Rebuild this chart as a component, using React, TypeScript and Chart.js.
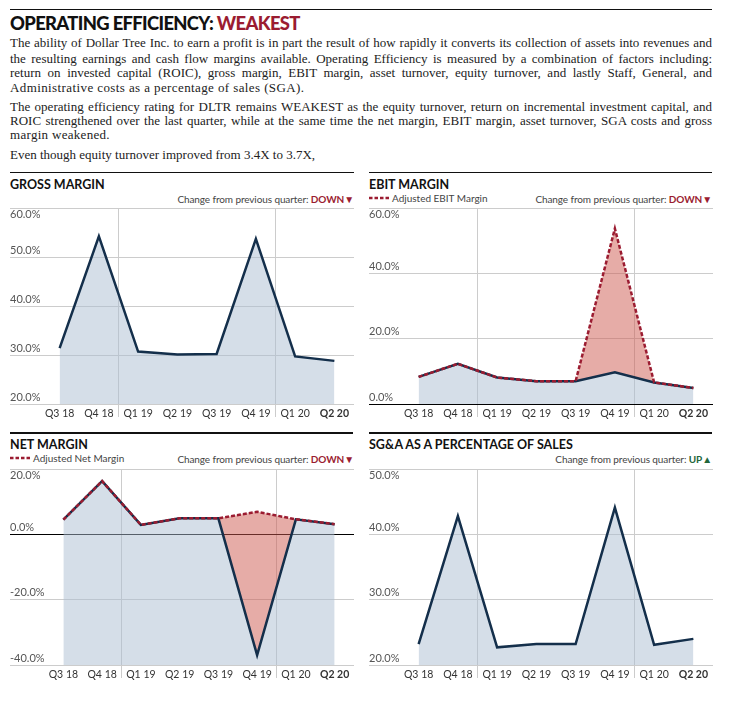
import React, { useEffect, useRef } from "react";
import { Chart, registerables } from "chart.js";

Chart.register(...registerables);

// ---------- data ----------
const quarters = ["Q3 18", "Q4 18", "Q1 19", "Q2 19", "Q3 19", "Q4 19", "Q1 20", "Q2 20"];

const grossMargin = [31.4, 54.2, 30.7, 30.1, 30.2, 53.7, 29.7, 28.8];
const grossTicks = [20, 30, 40, 50, 60];

const ebitMargin = [8.3, 12.3, 8.1, 7.0, 7.0, 9.7, 6.6, 4.9];
const adjEbitMargin = [8.3, 12.3, 8.1, 7.0, 7.0, 53.7, 6.6, 4.9];
const ebitTicks = [0, 20, 40, 60];

const netMargin = [4.5, 16.3, 2.9, 4.9, 4.9, -37.0, 4.6, 3.1];
const adjNetMargin = [4.5, 16.3, 2.9, 4.9, 4.9, 6.9, 4.6, 3.1];
const netTicks = [-40, -20, 0, 20];

const sgaPct = [23.2, 42.8, 22.7, 23.2, 23.2, 44.1, 23.1, 24.0];
const sgaTicks = [20, 30, 40, 50];

// ---------- styles ----------
const NAVY = "#142f4b";
const RED = "#9b1c31";
const GREEN = "#23663a";
const GRID = "#cccccc";
const BLUE_FILL = "rgba(171,189,209,0.5)";
const RED_FILL = "rgba(205,90,80,0.5)";
const SANS = "Lato, 'Open Sans', sans-serif";
const SERIF = "'Liberation Serif', 'DejaVu Serif', serif";

type PanelProps = {
  left: number;
  top: number;
  width: number;
  height: number;
  yWidth: number;
  ticks: number[];
  main: number[];
  adjusted?: number[];
};

function ChartPanel({ left, top, width, height, yWidth, ticks, main, adjusted }: PanelProps) {
  const ref = useRef<HTMLCanvasElement | null>(null);
  useEffect(() => {
    if (!ref.current) return;
    const min = Math.min(...ticks);
    const max = Math.max(...ticks);
    const datasets: any[] = [];
    if (adjusted) {
      datasets.push({
        data: adjusted,
        borderColor: RED,
        borderWidth: 2.5,
        borderDash: [4, 2],
        pointRadius: 0,
        tension: 0,
        fill: 1,
        backgroundColor: RED_FILL,
      });
    }
    datasets.push({
      data: main,
      borderColor: NAVY,
      borderWidth: 2.5,
      pointRadius: 0,
      tension: 0,
      fill: "start",
      backgroundColor: BLUE_FILL,
    });
    const last = quarters.length - 1;
    const chart = new Chart(ref.current, {
      type: "line",
      data: { labels: quarters, datasets },
      options: {
        responsive: false,
        animation: false,
        events: [],
        layout: { autoPadding: false, padding: { top: 8, left: 0, right: 0, bottom: 0 } },
        plugins: {
          legend: { display: false },
          tooltip: { enabled: false },
          filler: { drawTime: "beforeDatasetsDraw" },
        } as any,
        scales: {
          x: {
            type: "category",
            offset: true,
            border: { display: false },
            grid: {
              offset: true,
              drawTicks: true,
              tickLength: 13,
              lineWidth: 1,
              color: (ctx: any) =>
                quarters[ctx.index] && quarters[ctx.index].startsWith("Q1") ? GRID : "rgba(0,0,0,0)",
            },
            ticks: {
              padding: -10,
              autoSkip: false,
              maxRotation: 0,
              color: "#333",
              font: (ctx: any) => ({
                family: SANS,
                size: 10.5,
                weight: ctx.index === last ? "bold" : "normal",
              }),
            },
            afterFit: (s: any) => {
              s.height = 16;
              s.paddingLeft = 0;
              s.paddingRight = 0;
            },
          },
          y: {
            min,
            max,
            border: { display: false },
            afterBuildTicks: (s: any) => {
              s.ticks = ticks.map((v) => ({ value: v }));
            },
            afterFit: (s: any) => {
              s.width = yWidth;
              s.paddingTop = 0;
              s.paddingBottom = 0;
            },
            grid: {
              drawTicks: true,
              tickLength: yWidth,
              lineWidth: 1,
              color: (ctx: any) => (ctx.tick && ctx.tick.value === 0 ? "#000" : GRID),
            },
            ticks: {
              padding: 0,
              crossAlign: "far",
              color: "#555",
              font: { family: SANS, size: 11, lineHeight: 1.25 },
              callback: (v: any) => {
                const s = Number(v).toFixed(1) + "%";
                return Number(v) === max ? ["", s] : [s, ""];
              },
            },
          },
        },
      } as any,
    });
    return () => chart.destroy();
  }, []);
  return (
    <canvas
      ref={ref}
      width={width}
      height={height}
      style={{ position: "absolute", left, top, width, height }}
    />
  );
}

const abs = (o: React.CSSProperties): React.CSSProperties => ({ position: "absolute", ...o });

function Rule({ left, top, width }: { left: number; top: number; width: number }) {
  return <div style={abs({ left, top, width, height: 1.5, background: "#111" })} />;
}

function PanelTitle({ left, top, text }: { left: number; top: number; text: string }) {
  return (
    <div style={abs({ left, top, fontFamily: SANS, fontWeight: 700, fontSize: 12.5, color: "#111", whiteSpace: "nowrap", lineHeight: "15px" })}>
      {text}
    </div>
  );
}

function Change({ right, top, up }: { right: number; top: number; up: boolean }) {
  return (
    <div style={abs({ left: right - 300, width: 300, top, textAlign: "right", fontFamily: SANS, fontSize: 10, letterSpacing: -0.1, color: "#444", whiteSpace: "nowrap", lineHeight: "13px" })}>
      Change from previous quarter:{" "}
      <span style={{ fontWeight: 700, color: up ? GREEN : RED }}>{up ? "UP\u25B2" : "DOWN\u25BC"}</span>
    </div>
  );
}

function Legend({ left, top, text }: { left: number; top: number; text: string }) {
  return (
    <div style={abs({ left, top, fontFamily: SANS, fontSize: 10, color: "#444", whiteSpace: "nowrap", lineHeight: "13px" })}>
      <svg width={20} height={6} style={{ verticalAlign: "middle", marginRight: 3, marginTop: -2 }}>
        <line x1={0} y1={3} x2={20} y2={3} stroke={RED} strokeWidth={2.5} strokeDasharray="3.5 2" />
      </svg>
      {text}
    </div>
  );
}

const bodyLines: { text: string; base: number; last?: boolean; ls?: number }[] = [
  { text: "The ability of Dollar Tree Inc. to earn a profit is in part the result of how rapidly it converts its collection of assets into revenues and", base: 47.7 },
  { text: "the resulting earnings and cash flow margins available. Operating Efficiency is measured by a combination of factors including:", base: 63.3 },
  { text: "return on invested capital (ROIC), gross margin, EBIT margin, asset turnover, equity turnover, and lastly Staff, General, and", base: 77.7 },
  { text: "Administrative costs as a percentage of sales (SGA).", base: 92, last: true, ls: 0.4 },
  { text: "The operating efficiency rating for DLTR remains WEAKEST as the equity turnover, return on incremental investment capital, and", base: 111.7 },
  { text: "ROIC strengthened over the last quarter, while at the same time the net margin, EBIT margin, asset turnover, SGA costs and gross", base: 125.7 },
  { text: "margin weakened.", base: 139.7, last: true, ls: 0.3 },
  { text: "Even though equity turnover improved from 3.4X to 3.7X,", base: 159, last: true, ls: 0 },
];

export default function App() {
  return (
    <div style={abs({ left: 0, top: 0, width: 748, height: 704, background: "#fff", overflow: "hidden" })}>
      <Rule left={10} top={8.5} width={702} />
      <div style={abs({ left: 10, top: 11.8, fontFamily: SANS, fontWeight: 900, fontSize: 18.4, color: "#111", whiteSpace: "nowrap", letterSpacing: -0.65 })}>
        OPERATING EFFICIENCY: <span style={{ color: RED }}>WEAKEST</span>
      </div>
      {bodyLines.map((l, i) => (
        <div
          key={i}
          style={abs({
            left: 10,
            width: 702,
            top: l.base - 11.4,
            fontFamily: SERIF,
            fontSize: 13,
            lineHeight: "14px",
            color: "#222",
            letterSpacing: l.ls || 0,
            textAlign: l.last ? "left" : "justify",
            textAlignLast: l.last ? "left" : "justify",
          } as any)}
        >
          {l.text}
        </div>
      ))}

      {/* Row 1 */}
      <Rule left={10} top={171.5} width={344} />
      <Rule left={369} top={171.5} width={343} />
      <PanelTitle left={10} top={177} text="GROSS MARGIN" />
      <Change right={354} top={193} up={false} />
      <ChartPanel left={10} top={200} width={344} height={220} yWidth={30} ticks={grossTicks} main={grossMargin} />

      <PanelTitle left={369} top={177} text="EBIT MARGIN" />
      <Legend left={369} top={191.5} text="Adjusted EBIT Margin" />
      <Change right={712} top={193} up={false} />
      <ChartPanel left={369} top={200} width={344} height={220} yWidth={30} ticks={ebitTicks} main={ebitMargin} adjusted={adjEbitMargin} />

      {/* Row 2 */}
      <Rule left={10} top={432} width={343} />
      <Rule left={369} top={432} width={343} />
      <PanelTitle left={10} top={437} text="NET MARGIN" />
      <Legend left={10} top={451.5} text="Adjusted Net Margin" />
      <Change right={354} top={452.5} up={false} />
      <ChartPanel left={10} top={460.5} width={344} height={220} yWidth={34} ticks={netTicks} main={netMargin} adjusted={adjNetMargin} />

      <PanelTitle left={369} top={437} text="SG&A AS A PERCENTAGE OF SALES" />
      <Change right={712} top={452.5} up={true} />
      <ChartPanel left={369} top={460.5} width={344} height={220} yWidth={30} ticks={sgaTicks} main={sgaPct} />
    </div>
  );
}
